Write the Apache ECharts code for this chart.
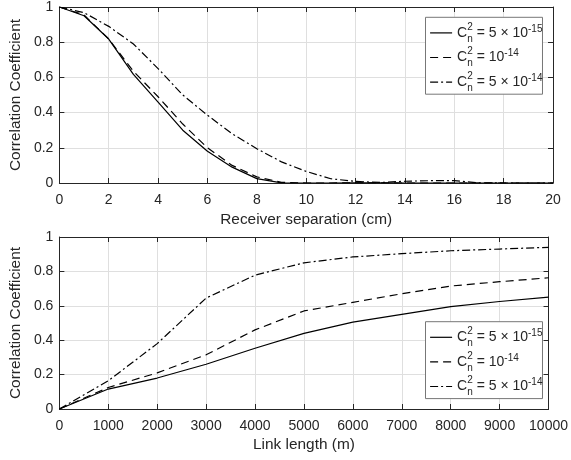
<!DOCTYPE html>
<html>
<head>
<meta charset="utf-8">
<script src="https://cdn.jsdelivr.net/npm/echarts@6/dist/echarts.min.js"></script>
<style>
  html, body { margin: 0; padding: 0; background: #fff; }
  #chart { width: 571px; height: 460px; }
</style>
</head>
<body>
<div id="chart"></div>
<script>
// receiver separation in cm (top panel)
const separationCm = [0, 1, 2, 3, 4, 5, 6, 7, 8, 9, 10, 11, 12, 13, 14, 15, 16, 17, 18, 19, 20]
const sepCn2Low = [1, 0.95, 0.818, 0.617, 0.46, 0.30, 0.18, 0.09, 0.025, 0.001, 0, 0, 0.001, 0.001, 0, 0, 0, 0, 0, 0, 0]
const sepCn2Mid = [1, 0.955, 0.818, 0.635, 0.49, 0.335, 0.20, 0.10, 0.035, 0.004, 0, 0, 0.001, 0.001, 0, 0, 0, 0, 0, 0, 0]
const sepCn2High = [1, 0.968, 0.89, 0.79, 0.65, 0.50, 0.385, 0.28, 0.195, 0.12, 0.066, 0.024, 0.009, 0.003, 0.01, 0.013, 0.013, 0.001, 0, 0, 0]

// link length in m (bottom panel)
const linkLengthM = [0, 1000, 2000, 3000, 4000, 5000, 6000, 7000, 8000, 9000, 10000]
const linkCn2Low = [0, 0.116, 0.18, 0.26, 0.353, 0.44, 0.505, 0.55, 0.595, 0.625, 0.65]
const linkCn2Mid = [0, 0.125, 0.21, 0.315, 0.46, 0.57, 0.62, 0.67, 0.715, 0.74, 0.763]
const linkCn2High = [0, 0.164, 0.38, 0.645, 0.778, 0.85, 0.884, 0.903, 0.92, 0.93, 0.94]

// legend labels: C_n^2 = mantissa x 10^exponent
const seriesNames = ['Cn2 = 5e-15', 'Cn2 = 1e-14', 'Cn2 = 5e-14']
const cn2Mantissa = ['5 × ', '', '5 × ']
const cn2Exponent = ['-15', '-14', '-14']

const font = 'Liberation Sans'
const ink = '#262626'
const dashTypes = ['solid', [8, 5], [8, 3, 2, 3]]

const chart = echarts.init(document.getElementById('chart'))

function pairs(xs, ys) {
  return xs.map((x, i) => [x, ys[i]])
}

function xAxisPair(gridIndex, max, interval, name, nameGap) {
  const common = {
    type: 'value',
    gridIndex: gridIndex,
    min: 0,
    max: max,
    interval: interval,
    axisLine: { show: true, onZero: false, lineStyle: { color: ink, width: 1 } },
    axisTick: { show: true, inside: true, length: 5, lineStyle: { color: ink } }
  }
  return [
    Object.assign({}, common, {
      position: 'bottom',
      name: name,
      nameLocation: 'middle',
      nameGap: nameGap,
      nameTextStyle: { fontFamily: font, fontSize: 15.4, color: ink },
      axisLabel: {
        margin: 10,
        fontFamily: font,
        fontSize: 14,
        color: ink,
        formatter: v => String(v)
      },
      splitLine: { show: true, lineStyle: { color: '#dfdfdf', width: 1 } }
    }),
    Object.assign({}, common, {
      position: 'top',
      axisLabel: { show: false },
      splitLine: { show: false }
    })
  ]
}

function yAxisPair(gridIndex) {
  const common = {
    type: 'value',
    gridIndex: gridIndex,
    min: 0,
    max: 1,
    interval: 0.2,
    axisLine: { show: true, onZero: false, lineStyle: { color: ink, width: 1 } },
    axisTick: { show: true, inside: true, length: 5, lineStyle: { color: ink } }
  }
  return [
    Object.assign({}, common, {
      position: 'left',
      name: 'Correlation Coefficient',
      nameLocation: 'middle',
      nameGap: 31,
      nameTextStyle: { fontFamily: font, fontSize: 15.4, color: ink },
      axisLabel: { margin: 6, fontFamily: font, fontSize: 14, color: ink },
      splitLine: { show: true, lineStyle: { color: '#dfdfdf', width: 1 } }
    }),
    Object.assign({}, common, {
      position: 'right',
      axisLabel: { show: false },
      splitLine: { show: false }
    })
  ]
}

function legendAt(top) {
  return {
    orient: 'vertical',
    left: 425.5,
    top: top,
    data: seriesNames.map((name, i) => ({
      name: name,
      itemStyle: { opacity: 0 },
      lineStyle: { color: '#000', width: 1.2, type: dashTypes[i] }
    })),
    itemWidth: 22,
    itemHeight: 14,
    itemGap: 2.6,
    padding: [4.6, 0, 1.1, 4],
    backgroundColor: '#fff',
    borderColor: '#777',
    borderWidth: 1,
    borderRadius: 0,
    selectedMode: false,
    itemStyle: { opacity: 0 },
    formatter: function (name) {
      const i = seriesNames.indexOf(name)
      return '{b|C}{sup|2}{sub|n}{b| = ' + cn2Mantissa[i] + '10}{exp|' + cn2Exponent[i] + '}'
    },
    textStyle: {
      fontFamily: font,
      color: ink,
      rich: {
        b: { fontFamily: font, fontSize: 14, lineHeight: 22, color: ink },
        sup: { fontFamily: font, fontSize: 10, lineHeight: 10, verticalAlign: 'top', width: 0, color: ink },
        sub: { fontFamily: font, fontSize: 10, lineHeight: 10, verticalAlign: 'bottom', color: ink },
        exp: { fontFamily: font, fontSize: 10, lineHeight: 10, verticalAlign: 'top', padding: [2, 0, 0, 0], color: ink }
      }
    }
  }
}

function lineSeries(i, xAxisIndex, yAxisIndex, data) {
  return {
    name: seriesNames[i],
    type: 'line',
    xAxisIndex: xAxisIndex,
    yAxisIndex: yAxisIndex,
    data: data,
    symbol: 'none',
    smooth: false,
    lineStyle: { color: '#000', width: 1.2, type: dashTypes[i] },
    itemStyle: { color: '#000' },
    z: 3
  }
}

chart.setOption({
  animation: false,
  backgroundColor: '#fff',
  grid: [
    { left: 54, top: 6, width: 499, height: 177 },
    { left: 54, top: 237, width: 499, height: 172 }
  ],
  xAxis: xAxisPair(0, 20, 2, 'Receiver separation (cm)', 29)
    .concat(xAxisPair(1, 10000, 1000, 'Link length (m)', 28)),
  yAxis: yAxisPair(0).concat(yAxisPair(1)),
  legend: [legendAt(17.3), legendAt(321.7)],
  series: [
    lineSeries(0, 0, 0, pairs(separationCm, sepCn2Low)),
    lineSeries(1, 0, 0, pairs(separationCm, sepCn2Mid)),
    lineSeries(2, 0, 0, pairs(separationCm, sepCn2High)),
    lineSeries(0, 2, 2, pairs(linkLengthM, linkCn2Low)),
    lineSeries(1, 2, 2, pairs(linkLengthM, linkCn2Mid)),
    lineSeries(2, 2, 2, pairs(linkLengthM, linkCn2High))
  ]
})
</script>
</body>
</html>
